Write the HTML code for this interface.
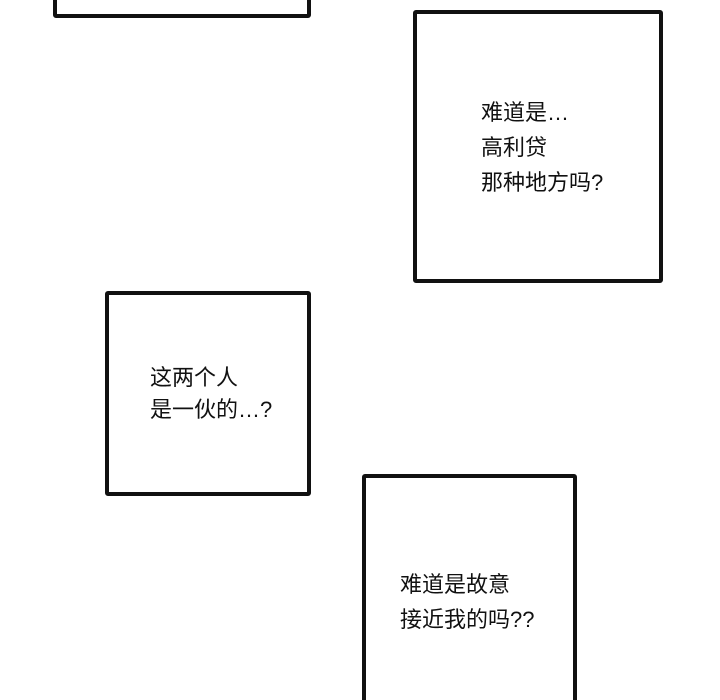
<!DOCTYPE html>
<html style="height:700px;overflow:hidden"><head><meta charset="utf-8"><style>
html,body{margin:0;width:720px;height:700px;overflow:hidden;}
body{background:#fff;position:relative;font-family:"Liberation Sans","Noto Sans CJK SC",sans-serif;}
.b{position:absolute;border:4px solid #111;border-radius:3px;box-sizing:border-box;background:#fff;}
.t{position:absolute;font-size:22px;line-height:35px;color:#111;white-space:nowrap;}
</style></head><body>
<div class="b" style="left:53px;top:-20px;width:258px;height:38px"></div>
<div class="b" style="left:413px;top:10px;width:250px;height:273px"></div>
<div class="t" style="left:481px;top:95px">难道是…<br>高利贷<br>那种地方吗?</div>
<div class="b" style="left:105px;top:291px;width:206px;height:205px"></div>
<div class="t" style="left:150px;top:362px;line-height:32px">这两个人<br>是一伙的…?</div>
<div class="b" style="left:362px;top:474px;width:215px;height:240px"></div>
<div class="t" style="left:400px;top:567px">难道是故意<br>接近我的吗??</div>
</body></html>
